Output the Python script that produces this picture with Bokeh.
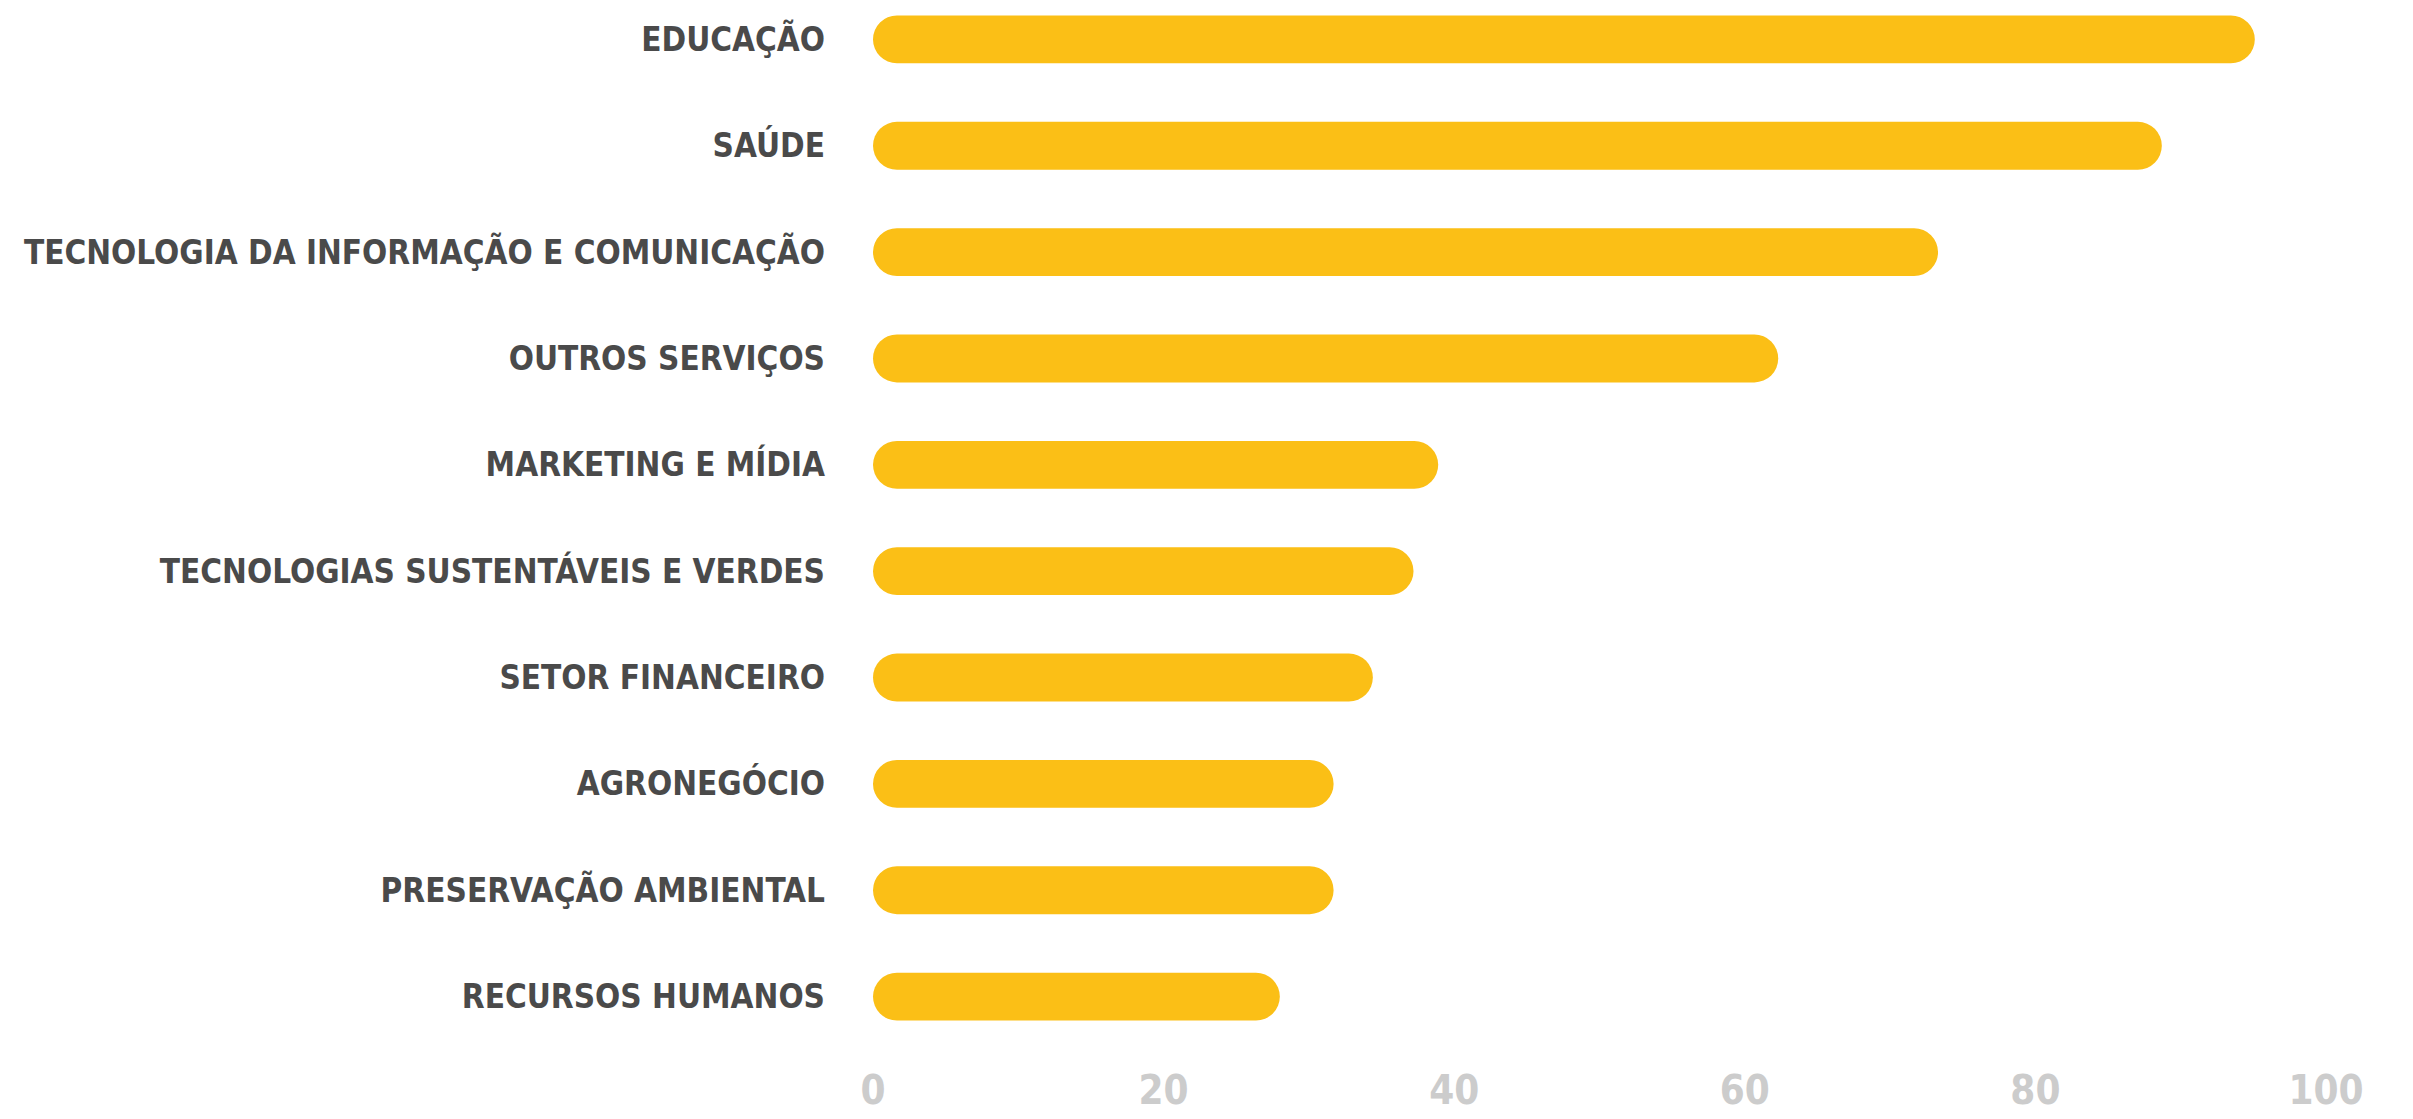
from bokeh.plotting import figure
from bokeh.models import FactorRange, Range1d, FixedTicker, ColumnDataSource
from bokeh.core.properties import value
from bokeh.embed import file_html
from bokeh.resources import INLINE

categories = [
    "EDUCAÇÃO",
    "SAÚDE",
    "TECNOLOGIA DA INFORMAÇÃO E COMUNICAÇÃO",
    "OUTROS SERVIÇOS",
    "MARKETING E MÍDIA",
    "TECNOLOGIAS SUSTENTÁVEIS E VERDES",
    "SETOR FINANCEIRO",
    "AGRONEGÓCIO",
    "PRESERVAÇÃO AMBIENTAL",
    "RECURSOS HUMANOS",
]
values = [95.1, 88.7, 73.3, 62.3, 38.9, 37.2, 34.4, 31.7, 31.7, 28.0]
tick_values = [0, 20, 40, 60, 80, 100]

W, H = 2413, 1119
PX_PER_UNIT = 14.53
ZERO_PX = 872.5
FONT = "DejaVu Sans Condensed, Roboto"

src = ColumnDataSource(dict(cat=categories, val=values))

y_range = FactorRange(factors=list(reversed(categories)),
                      range_padding=-0.134, range_padding_units="absolute")
x_range = Range1d(-ZERO_PX / PX_PER_UNIT, (W - ZERO_PX) / PX_PER_UNIT)

p = figure(width=W, height=H, x_range=x_range, y_range=y_range,
           output_backend="svg", toolbar_location=None,
           min_border=0, min_border_left=0, min_border_right=0,
           min_border_top=0, min_border_bottom=84,
           x_axis_location="below", y_axis_location=None)

p.outline_line_color = None
p.background_fill_color = "white"
p.border_fill_color = "white"
p.xgrid.visible = False
p.ygrid.visible = False

p.hbar(y="cat", left=0, right="val", height=0.45, source=src,
       fill_color="#FBBF16", line_color=None, border_radius=24)

p.text(x=0, y="cat", text="cat", source=src, x_offset=-48,
       text_align="right", text_baseline="middle",
       text_font=value(FONT), text_font_style="bold",
       text_font_size=value("33px"), text_color="#4a4a4a")

ax = p.xaxis[0]
ax.ticker = FixedTicker(ticks=tick_values)
ax.axis_line_color = None
ax.major_tick_line_color = None
ax.minor_tick_line_color = None
ax.major_tick_out = 0
ax.major_tick_in = 0
ax.major_label_standoff = 38
ax.major_label_text_font = FONT
ax.major_label_text_font_style = "bold"
ax.major_label_text_font_size = "40px"
ax.major_label_text_color = "#cccccc"

open("out.html", "w").write(file_html(p, INLINE))
